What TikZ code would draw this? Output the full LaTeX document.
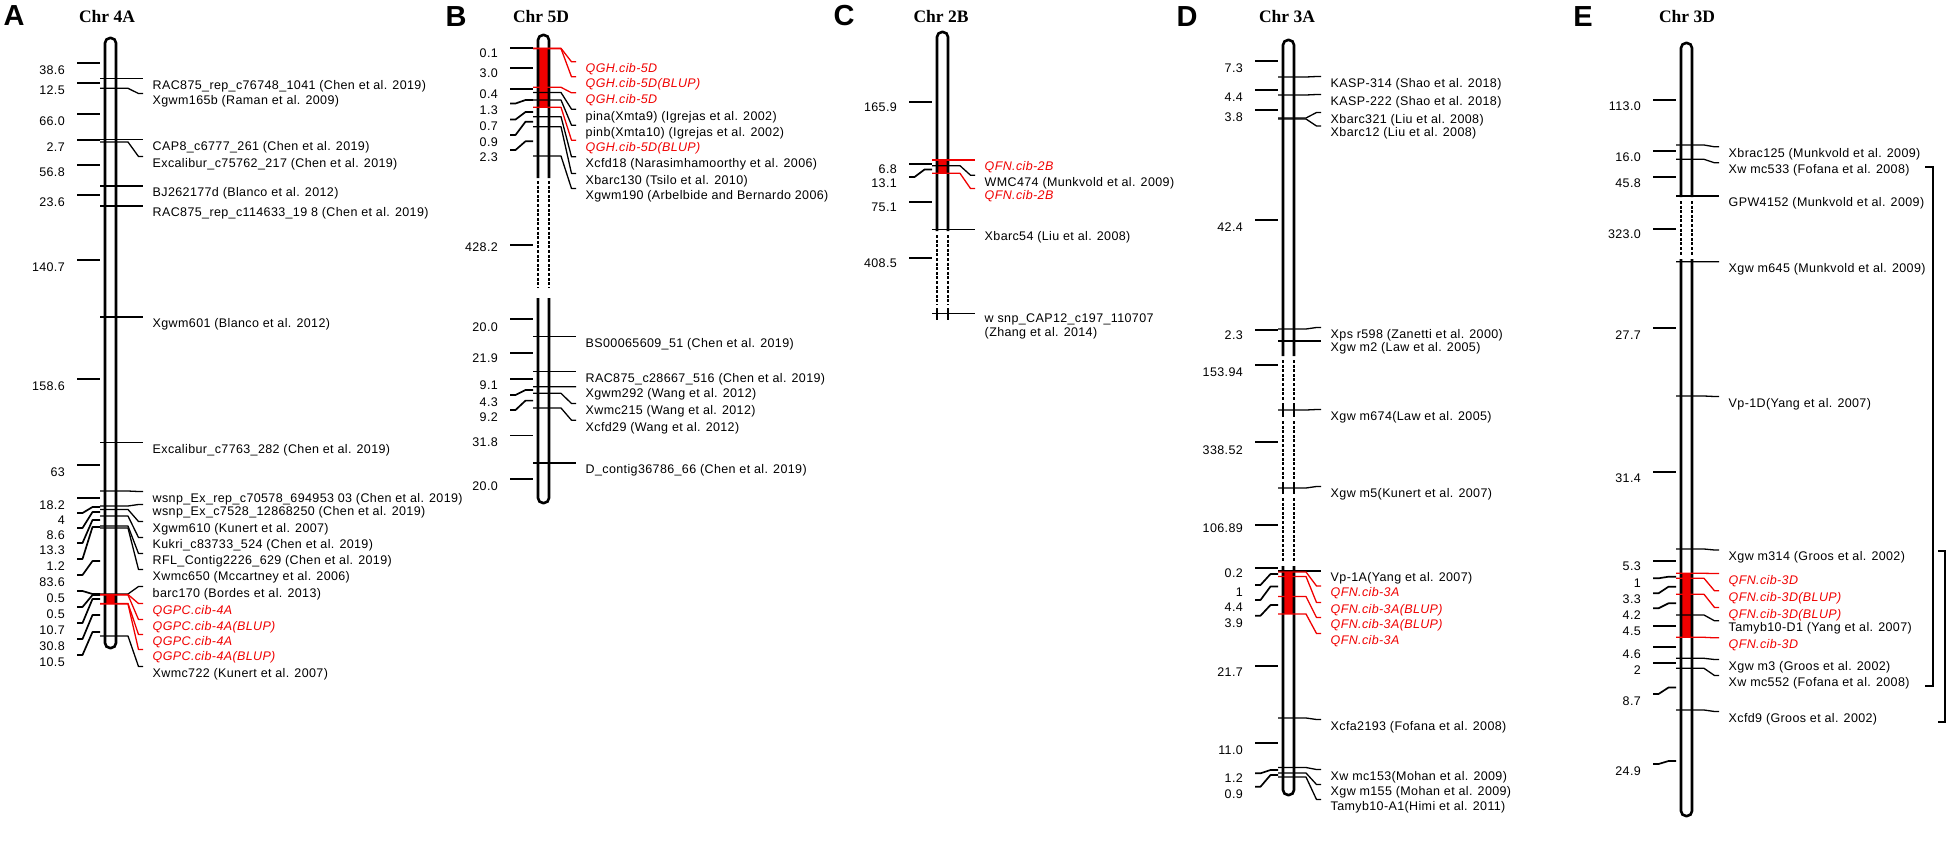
\documentclass[tikz,border=0pt]{standalone}
\usepackage{fontspec}
\setmainfont{Liberation Sans}
\newfontfamily\titlefont{Liberation Serif}
\newfontfamily\labff{Liberation Sans}[LetterSpace=3.0]
\definecolor{qred}{RGB}{240,0,0}
\newcommand\labfont{\labff\fontsize{12.5}{14}\selectfont}
\tikzset{
 chrom/.style={line width=2.6pt},
 chromdash/.style={line width=2.6pt,dash pattern=on 3pt off 1.6pt},
 mk/.style={line width=1.3pt,line join=round},
 tk/.style={line width=1.7pt,line join=round},
 lab/.style={font=\labfont,inner sep=0pt,anchor=base west},
 qlab/.style={font=\labfont\itshape,inner sep=0pt,anchor=base west,text=qred},
 num/.style={font=\labfont,inner sep=0pt,anchor=base east},
 ctitle/.style={font=\titlefont\bfseries\fontsize{17.5}{20}\selectfont,inner sep=0pt},
 pletter/.style={font=\bfseries\fontsize{29}{32}\selectfont,inner sep=0pt},
 brk/.style={line width=2.2pt},
}
% right marker: name, centre x, marker y, label centre y, text
\newcommand\MkR[5]{\draw[mk] (#2-10.5,#3) -- (#2+17.5,#3) -- (#2+28,#4-6.5) -- (#2+32.5,#4-6.5);
 \node[lab] (#1) at (#2+42,#4+4.4) {#5};}
\newcommand\MkQ[5]{\draw[mk,qred] (#2-10.5,#3) -- (#2+17.5,#3) -- (#2+28,#4-6.5) -- (#2+32.5,#4-6.5);
 \node[qlab] (#1) at (#2+42,#4+4.4) {#5};}
% left interval: name, centre x, text, text centre y, tick y, chromosome y
\newcommand\MkL[6]{\draw[tk] (#2-33.5,#5) -- (#2-28,#5) -- (#2-18,#6) -- (#2-10.5,#6);
 \node[num] (#1) at (#2-45.5,#4+4.4) {#3};}
\begin{document}
\begin{tikzpicture}[x=1pt,y=-1pt]
\useasboundingbox (0,0) rectangle (1950,844);
% ---------------- Panel A ----------------
\def\pcA{110.5}
\node[pletter] (pA) at (14,16) {A};
\node[ctitle] (tA) at (107,17) {Chr 4A};
\fill[qred] (\pcA-5.5,594.5) rectangle (\pcA+5.5,604);
\draw[chrom,rounded corners=5pt] (\pcA-5.5,38) rectangle (\pcA+5.5,648);
\MkL{aL1}{\pcA}{38.6}{70}{63}{63}
\MkL{aL2}{\pcA}{12.5}{90}{83}{83}
\MkL{aL3}{\pcA}{66.0}{121}{114}{114}
\MkL{aL4}{\pcA}{2.7}{147}{140}{140}
\MkL{aL5}{\pcA}{56.8}{172}{165}{165}
\MkL{aL6}{\pcA}{23.6}{202}{195}{195}
\MkL{aL7}{\pcA}{140.7}{267}{260}{260}
\MkL{aL8}{\pcA}{158.6}{386}{379}{379}
\MkL{aL9}{\pcA}{63}{472}{465}{465}
\MkL{aL10}{\pcA}{18.2}{505}{498}{498}
\MkL{aL11}{\pcA}{4}{520}{513}{507}
\MkL{aL12}{\pcA}{8.6}{535}{528}{512}
\MkL{aL13}{\pcA}{13.3}{550}{543}{520}
\MkL{aL14}{\pcA}{1.2}{566}{559}{527}
\MkL{aL15}{\pcA}{83.6}{582}{575}{561}
\MkL{aL16}{\pcA}{0.5}{598}{591}{594}
\MkL{aL17}{\pcA}{0.5}{614}{607}{595}
\MkL{aL18}{\pcA}{10.7}{630}{623}{599}
\MkL{aL19}{\pcA}{30.8}{646}{639}{615}
\MkL{aL20}{\pcA}{10.5}{662}{655}{632}
\MkR{aR1}{\pcA}{78.3}{84.8}{RAC875\_rep\_c76748\_1041 (Chen et al. 2019)}
\MkR{aR2}{\pcA}{88.3}{100}{Xgwm165b (Raman et al. 2009)}
\MkR{aR3}{\pcA}{139.5}{146}{CAP8\_c6777\_261 (Chen et al. 2019)}
\MkR{aR4}{\pcA}{142}{163}{Excalibur\_c75762\_217 (Chen et al. 2019)}
\MkR{aR5}{\pcA}{186}{192.5}{BJ262177d (Blanco et al. 2012)}
\MkR{aR6}{\pcA}{206}{212.5}{RAC875\_rep\_c114633\_19 8 (Chen et al. 2019)}
\MkR{aR7}{\pcA}{317}{323.5}{Xgwm601 (Blanco et al. 2012)}
\MkR{aR8}{\pcA}{442.3}{448.8}{Excalibur\_c7763\_282 (Chen et al. 2019)}
\MkR{aR9}{\pcA}{491}{498}{wsnp\_Ex\_rep\_c70578\_694953 03 (Chen et al. 2019)}
\MkR{aR10}{\pcA}{506}{511}{wsnp\_Ex\_c7528\_12868250 (Chen et al. 2019)}
\MkR{aR11}{\pcA}{509.5}{528}{Xgwm610 (Kunert et al. 2007)}
\MkR{aR12}{\pcA}{516}{544}{Kukri\_c83733\_524 (Chen et al. 2019)}
\MkR{aR13}{\pcA}{526}{560}{RFL\_Contig2226\_629 (Chen et al. 2019)}
\MkR{aR14}{\pcA}{528}{576}{Xwmc650 (Mccartney et al. 2006)}
\MkR{aR15}{\pcA}{594}{593}{barc170 (Bordes et al. 2013)}
\MkQ{aR16}{\pcA}{594.5}{610}{QGPC.cib-4A}
\MkQ{aR17}{\pcA}{595}{626}{QGPC.cib-4A(BLUP)}
\MkQ{aR18}{\pcA}{603.4}{641}{QGPC.cib-4A}
\MkQ{aR19}{\pcA}{604}{656}{QGPC.cib-4A(BLUP)}
\MkR{aR20}{\pcA}{636}{673}{Xwmc722 (Kunert et al. 2007)}
% ---------------- Panel B ----------------
\def\pcB{543.5}
\node[pletter] (pB) at (456,17) {B};
\node[ctitle] (tB) at (541,17) {Chr 5D};
\fill[qred] (\pcB-5.5,48) rectangle (\pcB+5.5,107.3);
\draw[chrom,rounded corners=5pt] (\pcB-5.5,178) -- (\pcB-5.5,35) -- (\pcB+5.5,35) -- (\pcB+5.5,178);
\draw[chromdash] (\pcB-5.5,181) -- (\pcB-5.5,288) (\pcB+5.5,181) -- (\pcB+5.5,288);
\draw[chrom,rounded corners=5pt] (\pcB-5.5,298) -- (\pcB-5.5,503) -- (\pcB+5.5,503) -- (\pcB+5.5,298);
\MkL{bL1}{\pcB}{0.1}{53.3}{48.3}{48.3}
\MkL{bL2}{\pcB}{3.0}{73.3}{68.3}{68.3}
\MkL{bL3}{\pcB}{0.4}{94.3}{89}{89}
\MkL{bL4}{\pcB}{1.3}{110}{103.5}{100}
\MkL{bL5}{\pcB}{0.7}{126}{119.5}{112}
\MkL{bL6}{\pcB}{0.9}{141.7}{135}{121.7}
\MkL{bL7}{\pcB}{2.3}{156.7}{150}{141.3}
\MkL{bL8}{\pcB}{428.2}{246.7}{245}{245}
\MkL{bL9}{\pcB}{20.0}{326.7}{319.3}{319.3}
\MkL{bL10}{\pcB}{21.9}{358.3}{353.3}{353.3}
\MkL{bL11}{\pcB}{9.1}{385}{379.3}{379.3}
\MkL{bL12}{\pcB}{4.3}{401.7}{395}{390}
\MkL{bL13}{\pcB}{9.2}{416.7}{410}{400.6}
\MkL{bL14}{\pcB}{31.8}{442.5}{435.5}{435.5}
\MkL{bL15}{\pcB}{20.0}{486}{479}{479}
\MkQ{bR1}{\pcB}{48.3}{68.3}{QGH.cib-5D}
\MkQ{bR2}{\pcB}{48.6}{83.3}{QGH.cib-5D(BLUP)}
\MkQ{bR3}{\pcB}{87.3}{99.3}{QGH.cib-5D}
\MkR{bR4}{\pcB}{92.5}{115.7}{pina(Xmta9) (Igrejas et al. 2002)}
\MkR{bR5}{\pcB}{100}{131.7}{pinb(Xmta10) (Igrejas et al. 2002)}
\MkQ{bR6}{\pcB}{107.3}{146.7}{QGH.cib-5D(BLUP)}
\MkR{bR7}{\pcB}{116.7}{163.3}{Xcfd18 (Narasimhamoorthy et al. 2006)}
\MkR{bR8}{\pcB}{126.7}{180}{Xbarc130 (Tsilo et al. 2010)}
\MkR{bR9}{\pcB}{156}{195}{Xgwm190 (Arbelbide and Bernardo 2006)}
\MkR{bR10}{\pcB}{336.7}{343.2}{BS00065609\_51 (Chen et al. 2019)}
\MkR{bR11}{\pcB}{371.7}{378.2}{RAC875\_c28667\_516 (Chen et al. 2019)}
\MkR{bR12}{\pcB}{386.7}{393.3}{Xgwm292 (Wang et al. 2012)}
\MkR{bR13}{\pcB}{393.3}{410}{Xwmc215 (Wang et al. 2012)}
\MkR{bR14}{\pcB}{408}{426.7}{Xcfd29 (Wang et al. 2012)}
\MkR{bR15}{\pcB}{463}{469.5}{D\_contig36786\_66 (Chen et al. 2019)}
% ---------------- Panel C ----------------
\def\pcC{942.5}
\node[pletter] (pC) at (844,16) {C};
\node[ctitle] (tC) at (941,17) {Chr 2B};
\fill[qred] (\pcC-5.5,160) rectangle (\pcC+5.5,173.3);
\draw[chrom,rounded corners=5pt] (\pcC-5.5,231) -- (\pcC-5.5,32) -- (\pcC+5.5,32) -- (\pcC+5.5,231);
\draw[chromdash] (\pcC-5.5,235) -- (\pcC-5.5,305) (\pcC+5.5,235) -- (\pcC+5.5,305);
\draw[chrom] (\pcC-5.5,308) -- (\pcC-5.5,320) (\pcC+5.5,308) -- (\pcC+5.5,320);
\MkL{cL1}{\pcC}{165.9}{106.7}{101.7}{101.7}
\MkL{cL2}{\pcC}{6.8}{169.3}{164}{164}
\MkL{cL3}{\pcC}{13.1}{183.3}{177}{169.5}
\MkL{cL4}{\pcC}{75.1}{206.7}{201.7}{201.7}
\MkL{cL5}{\pcC}{408.5}{263.3}{258.3}{258.3}
\MkQ{cR1}{\pcC}{160}{166.5}{QFN.cib-2B}
\MkR{cR2}{\pcC}{165.7}{181.7}{WMC474 (Munkvold et al. 2009)}
\MkQ{cR3}{\pcC}{173.3}{195}{QFN.cib-2B}
\MkR{cR4}{\pcC}{229.3}{235.8}{Xbarc54 (Liu et al. 2008)}
\draw[mk] (\pcC-10.5,313.3) -- (\pcC+32.5,313.3);
\node[lab] (cR5) at (\pcC+42,322.7) {w snp\_CAP12\_c197\_110707};
\node[lab] (cR5b) at (\pcC+42,336.1) {(Zhang et al. 2014)};
% ---------------- Panel D ----------------
\def\pcD{1288.5}
\node[pletter] (pD) at (1187,17) {D};
\node[ctitle] (tD) at (1287,17) {Chr 3A};
\fill[qred] (\pcD-5.5,572) rectangle (\pcD+5.5,614);
\draw[chrom,rounded corners=5pt] (\pcD-5.5,356) -- (\pcD-5.5,40) -- (\pcD+5.5,40) -- (\pcD+5.5,356);
\draw[chromdash] (\pcD-5.5,360) -- (\pcD-5.5,400) (\pcD+5.5,360) -- (\pcD+5.5,400);
\draw[chrom] (\pcD-5.5,403) -- (\pcD-5.5,417) (\pcD+5.5,403) -- (\pcD+5.5,417);
\draw[chromdash] (\pcD-5.5,421) -- (\pcD-5.5,479) (\pcD+5.5,421) -- (\pcD+5.5,479);
\draw[chrom] (\pcD-5.5,482) -- (\pcD-5.5,494) (\pcD+5.5,482) -- (\pcD+5.5,494);
\draw[chromdash] (\pcD-5.5,498) -- (\pcD-5.5,562) (\pcD+5.5,498) -- (\pcD+5.5,562);
\draw[chrom,rounded corners=5pt] (\pcD-5.5,566) -- (\pcD-5.5,795) -- (\pcD+5.5,795) -- (\pcD+5.5,566);
\MkL{dL1}{\pcD}{7.3}{68.3}{61.3}{61.3}
\MkL{dL2}{\pcD}{4.4}{96.7}{89.7}{89.7}
\MkL{dL3}{\pcD}{3.8}{116.7}{109.7}{109.7}
\MkL{dL4}{\pcD}{42.4}{226.7}{219.7}{219.7}
\MkL{dL5}{\pcD}{2.3}{335}{330}{330}
\MkL{dL6}{\pcD}{153.94}{371.7}{365}{365}
\MkL{dL7}{\pcD}{338.52}{450}{441.7}{441.7}
\MkL{dL8}{\pcD}{106.89}{528.3}{525}{525}
\MkL{dL9}{\pcD}{0.2}{573.3}{568.3}{568.3}
\MkL{dL10}{\pcD}{1}{591.7}{585}{574}
\MkL{dL11}{\pcD}{4.4}{606.7}{600}{586.5}
\MkL{dL12}{\pcD}{3.9}{622.7}{615.7}{605}
\MkL{dL13}{\pcD}{21.7}{671.7}{666}{666}
\MkL{dL14}{\pcD}{11.0}{750}{743.3}{743.3}
\MkL{dL15}{\pcD}{1.2}{778.3}{773.3}{770}
\MkL{dL16}{\pcD}{0.9}{794}{786.7}{775}
\MkR{dR1}{\pcD}{77}{83}{KASP-314 (Shao et al. 2018)}
\MkR{dR2}{\pcD}{95}{101}{KASP-222 (Shao et al. 2018)}
\MkR{dR3}{\pcD}{118}{119}{Xbarc321 (Liu et al. 2008)}
\MkR{dR4}{\pcD}{119}{132.5}{Xbarc12 (Liu et al. 2008)}
\MkR{dR5}{\pcD}{329}{334}{Xps r598 (Zanetti et al. 2000)}
\MkR{dR6}{\pcD}{341}{347.5}{Xgw m2 (Law et al. 2005)}
\MkR{dR7}{\pcD}{410}{416}{Xgw m674(Law et al. 2005)}
\MkR{dR8}{\pcD}{488}{493}{Xgw m5(Kunert et al. 2007)}
\MkR{dR9}{\pcD}{571}{577.5}{Vp-1A(Yang et al. 2007)}
\MkQ{dR10}{\pcD}{572}{592.5}{QFN.cib-3A}
\MkQ{dR11}{\pcD}{576.5}{609}{QFN.cib-3A(BLUP)}
\MkQ{dR12}{\pcD}{596.5}{624}{QFN.cib-3A(BLUP)}
\MkQ{dR13}{\pcD}{614}{640}{QFN.cib-3A}
\MkR{dR14}{\pcD}{718}{726}{Xcfa2193 (Fofana et al. 2008)}
\MkR{dR15}{\pcD}{767.5}{776}{Xw mc153(Mohan et al. 2009)}
\MkR{dR16}{\pcD}{773}{791}{Xgw m155 (Mohan et al. 2009)}
\MkR{dR17}{\pcD}{777}{806}{Tamyb10-A1(Himi et al. 2011)}
% ---------------- Panel E ----------------
\def\pcE{1686.5}
\node[pletter] (pE) at (1583,17) {E};
\node[ctitle] (tE) at (1687,17) {Chr 3D};
\fill[qred] (\pcE-5.5,573.3) rectangle (\pcE+5.5,637.3);
\draw[chrom,rounded corners=5pt] (\pcE-5.5,197) -- (\pcE-5.5,43) -- (\pcE+5.5,43) -- (\pcE+5.5,197);
\draw[chromdash] (\pcE-5.5,201) -- (\pcE-5.5,255) (\pcE+5.5,201) -- (\pcE+5.5,255);
\draw[chrom,rounded corners=5pt] (\pcE-5.5,259) -- (\pcE-5.5,816) -- (\pcE+5.5,816) -- (\pcE+5.5,259);
\MkL{eL1}{\pcE}{113.0}{106}{100}{100}
\MkL{eL2}{\pcE}{16.0}{156.7}{151}{151}
\MkL{eL3}{\pcE}{45.8}{182.7}{177.3}{177.3}
\MkL{eL4}{\pcE}{323.0}{234}{229.3}{229.3}
\MkL{eL5}{\pcE}{27.7}{335}{328.3}{328.3}
\MkL{eL6}{\pcE}{31.4}{478.3}{471.7}{471.7}
\MkL{eL7}{\pcE}{5.3}{566}{560.7}{560.7}
\MkL{eL8}{\pcE}{1}{582.7}{578.3}{576.7}
\MkL{eL9}{\pcE}{3.3}{598.7}{593.3}{586.7}
\MkL{eL10}{\pcE}{4.2}{615}{608.3}{603.3}
\MkL{eL11}{\pcE}{4.5}{630.7}{625.7}{625.7}
\MkL{eL12}{\pcE}{4.6}{654}{647.3}{647.3}
\MkL{eL13}{\pcE}{2}{670}{663.3}{663.3}
\MkL{eL14}{\pcE}{8.7}{701}{694}{687.5}
\MkL{eL15}{\pcE}{24.9}{771}{764}{761}
\MkR{eR1}{\pcE}{145}{153.3}{Xbrac125 (Munkvold et al. 2009)}
\MkR{eR2}{\pcE}{159.3}{169.3}{Xw mc533 (Fofana et al. 2008)}
\MkR{eR3}{\pcE}{196}{202.5}{GPW4152 (Munkvold et al. 2009)}
\MkR{eR4}{\pcE}{261.7}{268.3}{Xgw m645 (Munkvold et al. 2009)}
\MkR{eR5}{\pcE}{396}{403}{Vp-1D(Yang et al. 2007)}
\MkR{eR6}{\pcE}{549}{556.5}{Xgw m314 (Groos et al. 2002)}
\MkQ{eR7}{\pcE}{573.3}{580}{QFN.cib-3D}
\MkQ{eR8}{\pcE}{578.3}{597.3}{QFN.cib-3D(BLUP)}
\MkQ{eR9}{\pcE}{594.3}{614}{QFN.cib-3D(BLUP)}
\MkR{eR10}{\pcE}{615}{627.3}{Tamyb10-D1 (Yang et al. 2007)}
\MkQ{eR11}{\pcE}{637.3}{644.3}{QFN.cib-3D}
\MkR{eR12}{\pcE}{658.3}{666}{Xgw m3 (Groos et al. 2002)}
\MkR{eR13}{\pcE}{668.3}{682}{Xw mc552 (Fofana et al. 2008)}
\MkR{eR14}{\pcE}{710}{718}{Xcfd9 (Groos et al. 2002)}
% brackets
\coordinate (b1a) at (1925,166.7); \coordinate (b1b) at (1925,686);
\draw[brk] (b1a) -- (1933,166.7) -- (1933,686) -- (b1b);
\coordinate (b2a) at (1938,550.7); \coordinate (b2b) at (1938,722);
\draw[brk] (b2a) -- (1945,550.7) -- (1945,722) -- (b2b);
\end{tikzpicture}
\end{document}
